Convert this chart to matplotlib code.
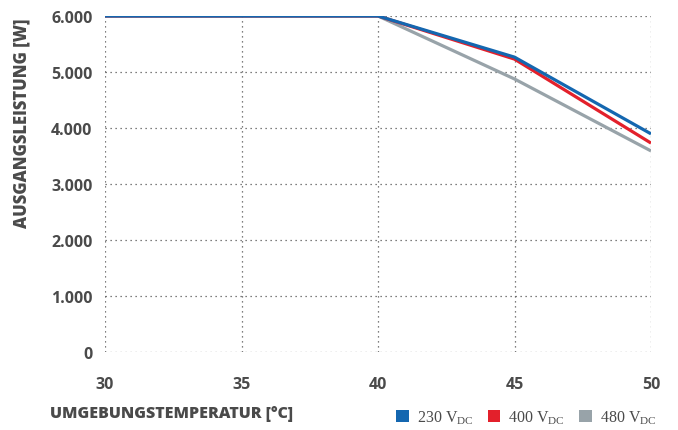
import matplotlib
matplotlib.use('Agg')
import matplotlib.pyplot as plt
import matplotlib.ticker as ticker
from matplotlib.patches import Patch

# data
temps = [30, 40, 45, 50]
p_230 = [6000, 6000, 5265, 3895]
p_400 = [6000, 6000, 5230, 3730]
p_480 = [6000, 6000, 4875, 3590]

series = [
    ('480', p_480, '#98a3a9'),
    ('400', p_400, '#e3202b'),
    ('230', p_230, '#1467b0'),
]

x_ticks = [30, 35, 40, 45, 50]
y_ticks = [0, 1000, 2000, 3000, 4000, 5000, 6000]
y_labels = ['0', '1.000', '2.000', '3.000', '4.000', '5.000', '6.000']

TXT = '#4a4a4a'
plt.rcParams['font.family'] = 'Open Sans'
plt.rcParams['mathtext.fontset'] = 'custom'
plt.rcParams['mathtext.rm'] = 'Liberation Serif'

fig = plt.figure(figsize=(6.78, 4.31), dpi=100)
ax = fig.add_axes([0.1549, 0.181, 0.8053, 0.7796])

for name, vals, color in series:
    ax.plot(temps, vals, color=color, linewidth=2.3, solid_capstyle='butt', zorder=3)

ax.set_xlim(30, 50)
ax.set_ylim(0, 6000)
ax.set_xticks(x_ticks)
ax.set_yticks(y_ticks)
ax.set_yticklabels(y_labels)
for s in ax.spines.values():
    s.set_visible(False)
ax.tick_params(length=0, labelsize=11.5, labelcolor=TXT)
ax.tick_params(axis='y', pad=9)
ax.tick_params(axis='x', pad=17)
for lab in ax.get_xticklabels() + ax.get_yticklabels():
    lab.set_fontweight('bold')
ax.grid(True, color='#555555', linestyle=(0, (1, 3)), linewidth=0.9, zorder=1)
ax.set_axisbelow(True)

ax.set_ylabel('AUSGANGSLEISTUNG [W]', fontsize=12, fontweight='heavy', color=TXT)
ax.yaxis.set_label_coords(-0.136, 0.685, transform=ax.transAxes)
fig.text(0.074, 0.04, 'UMGEBUNGSTEMPERATUR [°C]', fontsize=11.5, fontweight='heavy',
         color=TXT, ha='left', va='center')

handles = [Patch(facecolor=c, edgecolor='none', label=n + r' V$_{\mathrm{DC}}$')
           for n, v, c in reversed(series)]
leg = fig.legend(handles=handles, loc='center right', bbox_to_anchor=(0.99, 0.03),
                 ncol=3, frameon=False, handlelength=0.8, handleheight=0.8,
                 handletextpad=0.5, columnspacing=0.9,
                 prop={'family': 'Liberation Serif', 'size': 11.5})
for t in leg.get_texts():
    t.set_color(TXT)

fig.savefig('out.png', dpi=100)
